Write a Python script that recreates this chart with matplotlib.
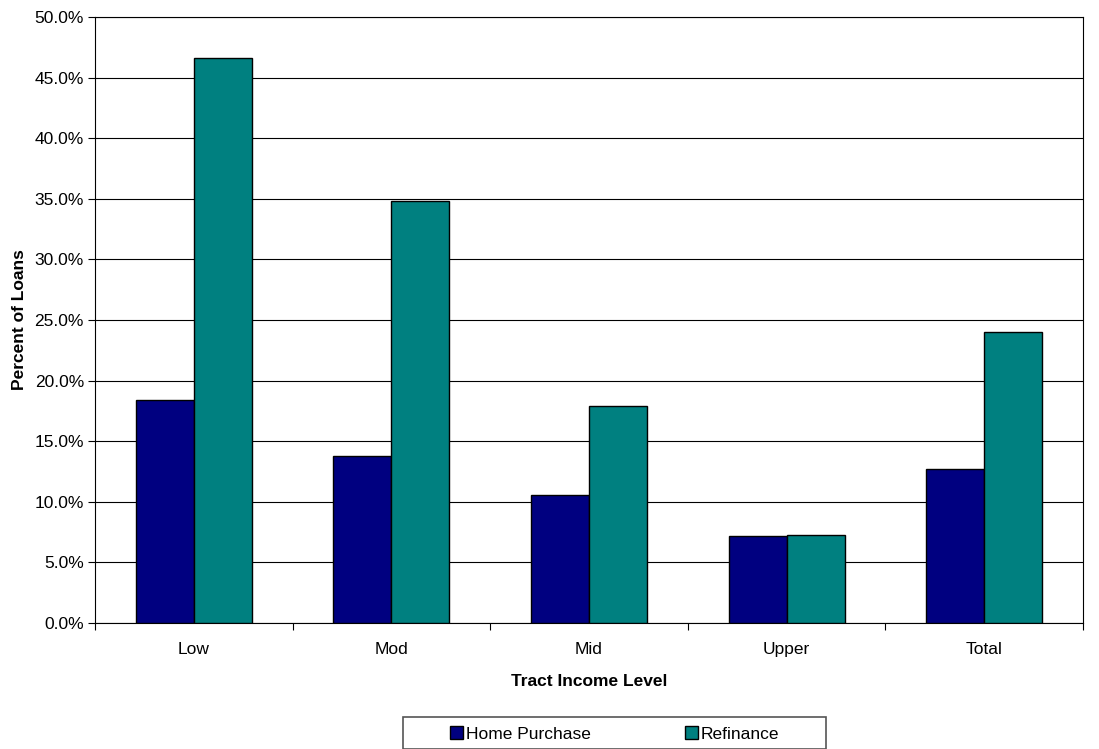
import numpy as np
import matplotlib.pyplot as plt
from matplotlib.patches import Rectangle
from matplotlib.ticker import FuncFormatter, MultipleLocator

plt.rcParams['font.family'] = ['Liberation Sans', 'DejaVu Sans']

categories = ["Low", "Mod", "Mid", "Upper", "Total"]
home_purchase = [18.4, 13.8, 10.6, 7.15, 12.7]
refinance = [46.6, 34.8, 17.9, 7.25, 24.05]

W, H = 1099, 749
fig = plt.figure(figsize=(W / 100, H / 100), dpi=100)
ax = fig.add_axes([95 / W, 1 - 623 / H, (1083 - 95) / W, (623 - 17) / H])

x = np.arange(len(categories))
w = 0.294
ax.bar(x - w / 2, home_purchase, w, color="#000080", edgecolor="black",
       linewidth=1, label="Home Purchase", zorder=3)
ax.bar(x + w / 2, refinance, w, color="#008080", edgecolor="black",
       linewidth=1, label="Refinance", zorder=3)

ax.set_xlim(-0.5, len(categories) - 0.5)
ax.set_ylim(0, 50)
ax.yaxis.set_major_locator(MultipleLocator(5))
ax.yaxis.set_major_formatter(FuncFormatter(lambda v, p: f"{v:.1f}%"))
ax.grid(axis="y", color="black", linewidth=0.8, zorder=0)

# category ticks sit between groups, labels centred under each group
ax.set_xticks(np.arange(len(categories) + 1) - 0.5)
ax.set_xticklabels([])
ax.set_xticks(x, minor=True)
ax.set_xticklabels(categories, minor=True)
ax.tick_params(axis="x", which="minor", length=0, pad=14, labelsize=12.5)
ax.tick_params(axis="x", which="major", length=5, width=0.8, direction="out")
ax.tick_params(axis="y", length=5, width=0.8, labelsize=12.5, pad=3)

for s in ax.spines.values():
    s.set_color("black")
    s.set_linewidth(0.8)

ax.set_xlabel("Tract Income Level", fontsize=12.5, fontweight="bold", labelpad=12)
ax.set_ylabel("Percent of Loans", fontsize=12.5, fontweight="bold", labelpad=5)

# legend box with wide side margins, drawn as its own frame behind the axes
fig.patches.append(Rectangle((403 / W, 1 - 749 / H), (826 - 403) / W, (749 - 717) / H,
                             transform=fig.transFigure, facecolor="white",
                             edgecolor="#555555", linewidth=1.2, zorder=-1))
leg = ax.legend(loc="center", bbox_to_anchor=(614.5 / W, 1 - 734 / H),
                bbox_transform=fig.transFigure, ncol=2, frameon=False,
                fontsize=12.5, handlelength=0.75, handleheight=0.75,
                handletextpad=0.15, columnspacing=5.4, borderpad=0,
                borderaxespad=0)

fig.savefig("out.png", dpi=100, facecolor="white")
